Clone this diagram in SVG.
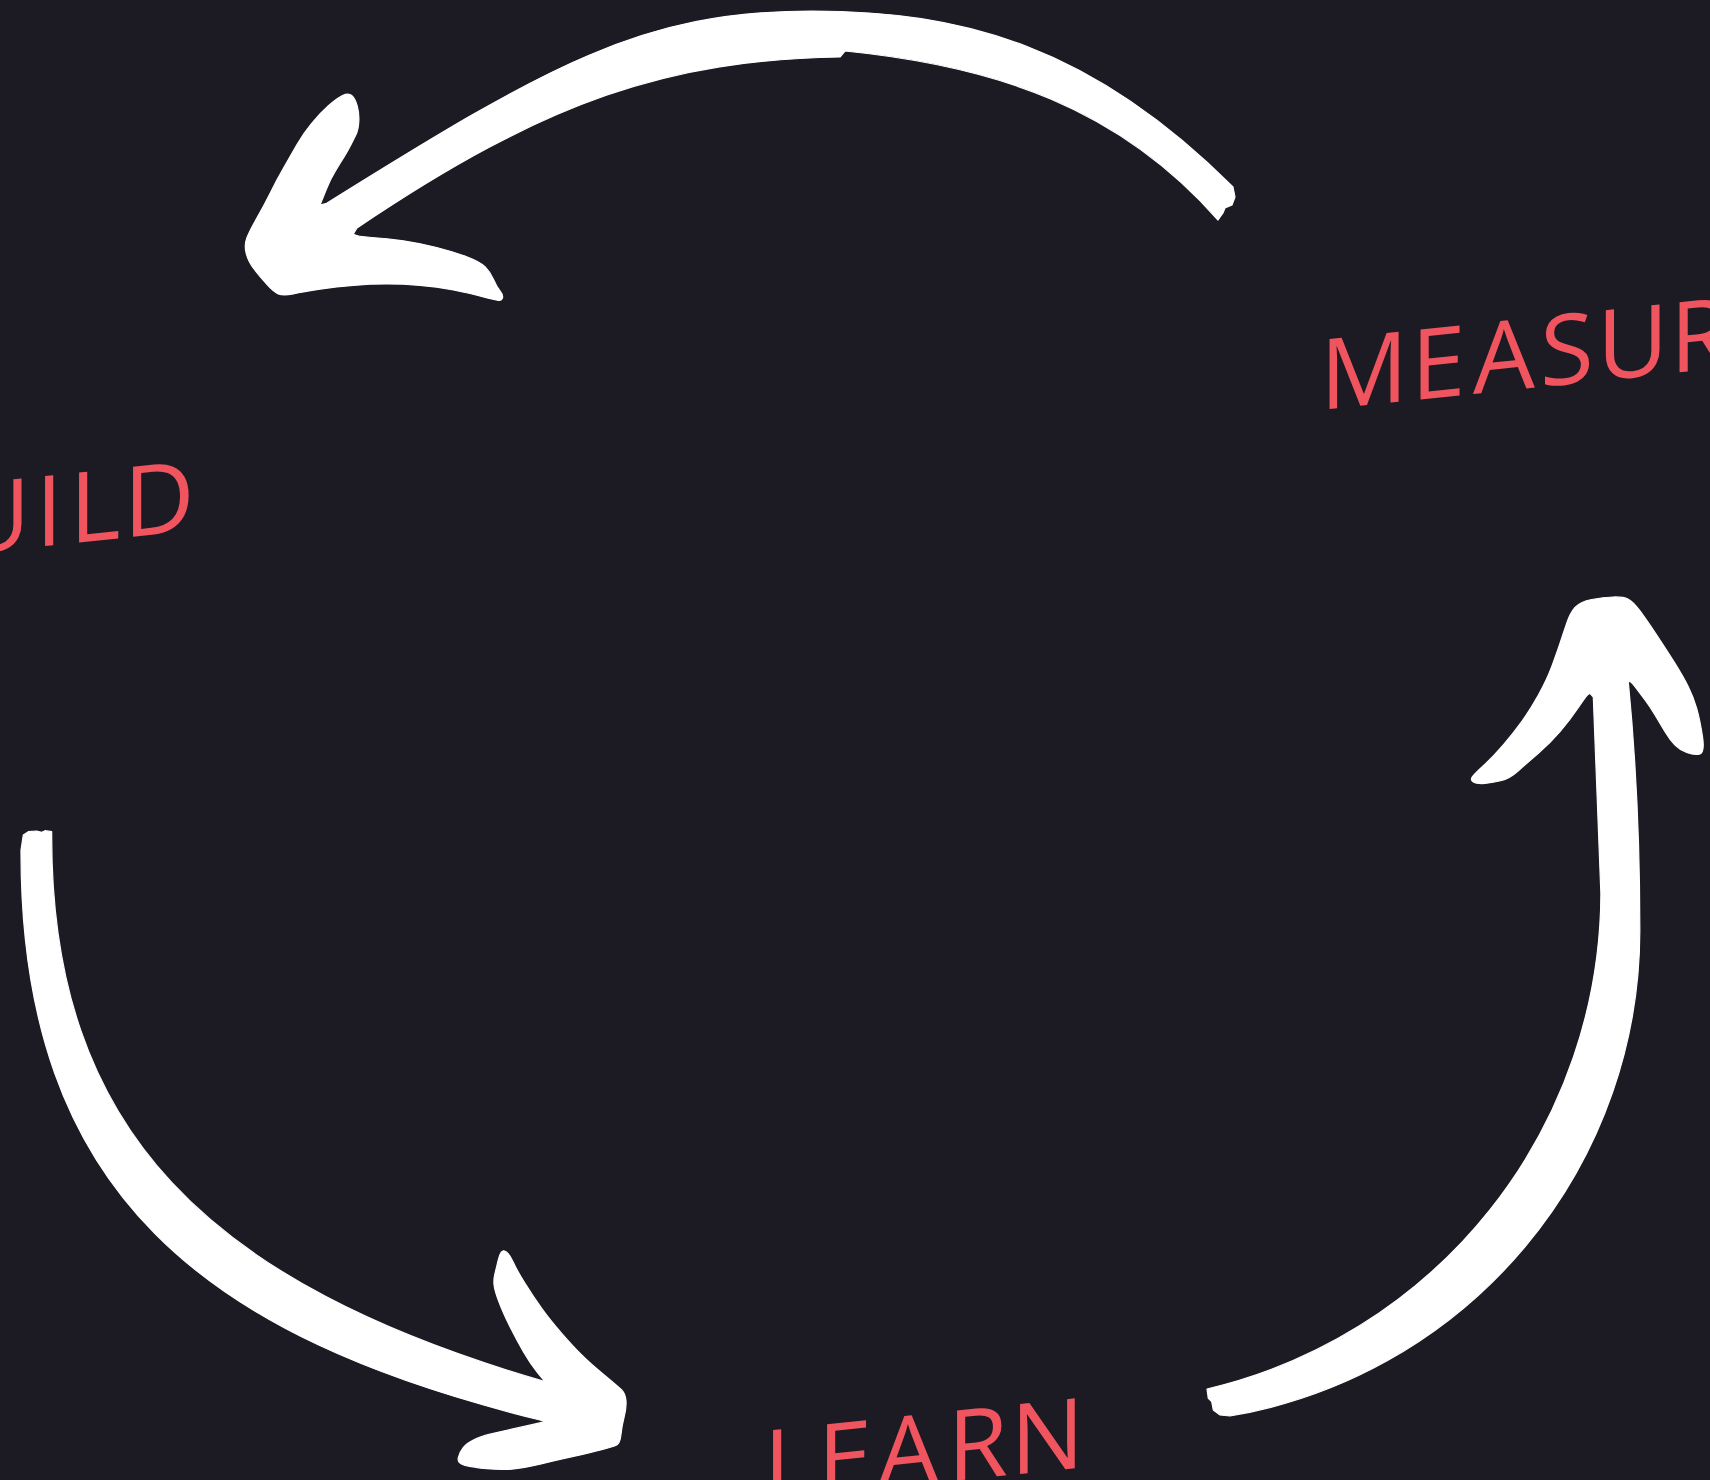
<svg xmlns="http://www.w3.org/2000/svg" width="1710" height="1480" viewBox="0 0 1710 1480">
<style>
.arrow{fill:#ffffff;stroke:#ffffff;stroke-width:1.2;stroke-linejoin:round}
.label{font-family:"Open Sans","Liberation Sans",sans-serif;font-size:98px;font-weight:400;fill:#f0545f}
</style>
<rect x="0" y="0" width="1710" height="1480" fill="#1c1b24"/>
<g id="connectors">
<path id="arrow-measure-build" class="arrow" d="M 1218,220 L 1223,213 1225,208 1232,205 1235,197 1233,187 C 1092,46 962,11 812,11 C 642,11 547.7,65.5 326.7,203.3 L 320,205 321.7,200.9 Q 323.3,196.7 326.7,188.4 Q 330,180 335,171.7 Q 340,163.3 344.2,156.7 Q 348.3,150 350.8,145 Q 353.3,140 355.8,135 Q 358.3,130 358.8,121.7 Q 359.3,113.3 357.2,105.8 Q 355,98.3 351.7,95.5 Q 348.3,92.7 342.5,95.5 Q 336.7,98.3 328.4,105.8 Q 320,113.3 311.7,123.3 Q 303.3,133.3 296.7,145 Q 290,156.7 283.4,168.4 Q 276.7,180 270,193.4 Q 263.3,206.7 256.7,218.4 Q 250,230 247,237.5 Q 244,245 246.2,253.4 Q 248.3,261.7 254.2,269.2 Q 260,276.7 266.7,284.2 Q 273.3,291.7 278.3,293.9 Q 283.3,296 293.3,293.9 Q 303.3,291.7 320,289.2 Q 336.7,286.7 353.4,285.4 Q 370,284 386.7,284 Q 403.3,284 420,285.4 Q 436.7,286.7 453.4,290 Q 470,293.3 482.5,296.7 Q 495,300 498.4,300.4 Q 501.7,300.7 502.5,297.9 Q 503.3,295 500,290.9 Q 496.7,286.7 493.4,279.2 Q 490,271.7 485,266.7 Q 480,261.7 466.7,256.7 Q 453.3,251.7 436.7,247.5 Q 420,243.3 403.4,240.8 Q 386.7,238.3 371.7,237.5 Q 356.7,236.7 353.3,234 L 357,228 C 548,99 670,60 840,57 L 845,51 C 995,66 1119,107.5 1218,220 Z"/>
<path id="arrow-build-learn" class="arrow" d="M 23.3,835 L 28.3,831.7 36.7,831 41.7,832.3 45,830.7 51.7,831.7 C 50,1131.7 209,1283.7 545,1381.7 L 537.5,1372.5 Q 530,1363.3 523.4,1351.7 Q 516.7,1340 510,1326.7 Q 503.3,1313.3 499.2,1302.5 Q 495,1291.7 494.2,1285.9 Q 493.3,1280 495,1273.4 Q 496.7,1266.7 498,1260.9 Q 499.3,1255 501.3,1252.2 Q 503.3,1249.3 506.7,1252.2 Q 510,1255 513.4,1262.5 Q 516.7,1270 525,1283.4 Q 533.3,1296.7 541.7,1308.4 Q 550,1320 561.7,1333.4 Q 573.3,1346.7 581.7,1355 Q 590,1363.3 604.2,1375 Q 618.3,1386.7 621.7,1390 Q 625,1393.3 625.9,1400 Q 626.7,1406.7 624.2,1416.7 Q 621.7,1426.7 620.9,1435 Q 620,1443.3 616.7,1445 Q 613.3,1446.7 601.7,1449.7 Q 590,1452.7 573.4,1456.4 Q 556.7,1460 540,1464.2 Q 523.3,1468.3 511.7,1469.2 Q 500,1470 486.7,1468.7 Q 473.3,1467.3 465,1465.3 Q 456.7,1463.3 458.4,1457.5 Q 460,1451.7 463.4,1447.5 Q 466.7,1443.3 473.4,1440 Q 480,1436.7 490,1434.2 Q 500,1431.7 511.7,1429.2 Q 523.3,1426.7 534.2,1424.2 L 545,1421.7 540,1420 C 205.4,1337.2 20,1195 21,850 Z"/>
<path id="arrow-learn-measure" class="arrow" d="M 1207,1389 A 510.5 510.5 0 0 0 1600.9,893.8 L 1593.3,697 L 1590,693.3 1588.4,694.2 Q 1586.7,695 1578.4,707.5 Q 1570,720 1560,731.7 Q 1550,743.3 1538.4,753.3 Q 1526.7,763.3 1518.4,770.8 Q 1510,778.3 1501.7,780.5 Q 1493.3,782.7 1485,783.4 Q 1476.7,784 1473.4,782 Q 1470,780 1472.5,776.7 Q 1475,773.3 1484.2,765 Q 1493.3,756.7 1503.3,745 Q 1513.3,733.3 1521.7,721.7 Q 1530,710 1538.4,695 Q 1546.7,680 1551.7,666.7 Q 1556.7,653.3 1560,643.3 Q 1563.3,633.3 1566.7,623.3 Q 1570,613.3 1575,607.5 Q 1580,601.7 1591.7,599.5 Q 1603.3,597.3 1613.3,597 Q 1623.3,596.7 1628.3,599.2 Q 1633.3,601.7 1640,610.9 Q 1646.7,620 1656.7,635 Q 1666.7,650 1675,663.4 Q 1683.3,676.7 1688.3,686.7 Q 1693.3,696.7 1696.7,708.4 Q 1700,720 1702.5,736.7 Q 1705,753.3 1699.2,754.2 Q 1693.3,755 1686.7,752.5 Q 1680,750 1675,745 Q 1670,740 1665,731.7 Q 1660,723.3 1655,715 Q 1650,706.7 1645,700 Q 1640,693.3 1635,686.7 Q 1630,680 1628.3,681.7 Q 1639.8,800 1639.8,927.5 A 492 492 0 0 1 1230,1416 L 1220,1415 1213.3,1410 1211.7,1401.7 1208.3,1398.3 Z"/>
</g>
<g id="node-measure">
<text class="label" transform="skewY(-6)" x="1320 1411 1473 1540 1597 1670 1736" y="548.8">MEASURE</text>
</g>
<g id="node-build">
<text class="label" transform="skewY(-6)" x="-112 -41 35.5 69.5 123.5" y="550.7">BUILD</text>
</g>
<g id="node-learn">
<text class="label" transform="skewY(-6)" x="763.5 817.5 877 947.5 1010.5" y="1581.2">LEARN</text>
</g>
</svg>
